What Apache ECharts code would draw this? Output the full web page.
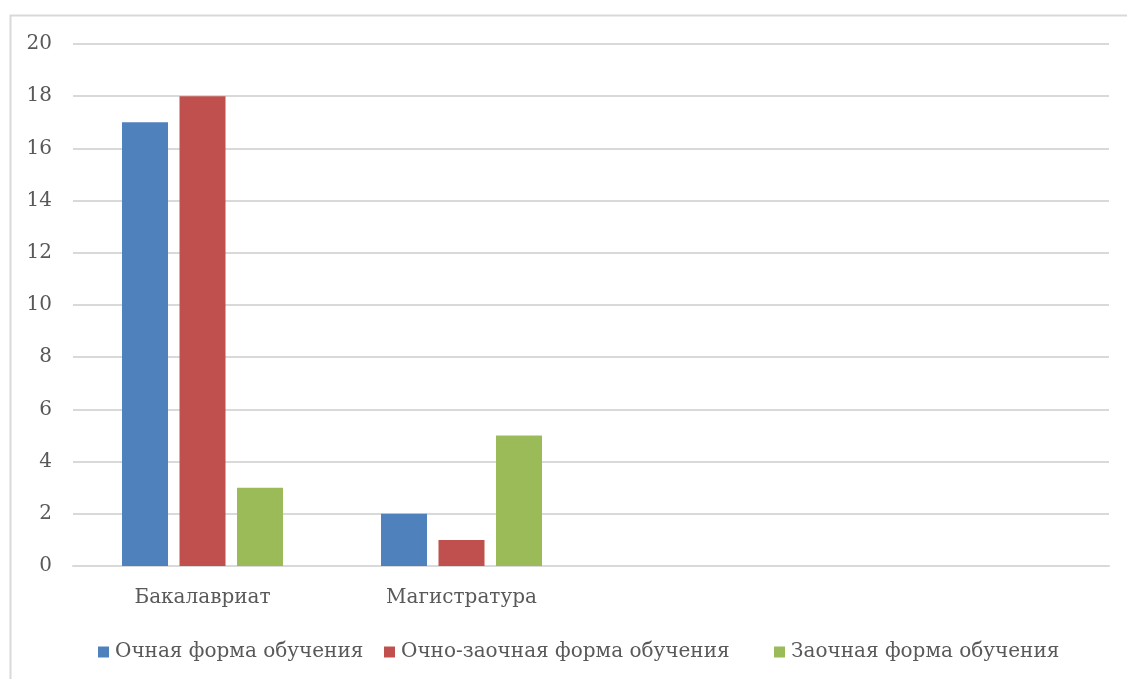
<!DOCTYPE html>
<html><head><meta charset="utf-8">
<script src="https://cdn.jsdelivr.net/npm/echarts@6/dist/echarts.min.js"></script>
<style>html,body{margin:0;padding:0;background:#fff}#c{width:1127px;height:679px}</style>
</head><body><div id="c"></div>
<script>
var categories = ['Бакалавриат', 'Магистратура', '', ''];
var seriesNames = ['Очная форма обучения', 'Очно-заочная форма обучения', 'Заочная форма обучения'];
var fullTime = [17, 2, null, null];
var partTime = [18, 1, null, null];
var distance = [3, 5, null, null];
var yTicks = [0, 2, 4, 6, 8, 10, 12, 14, 16, 18, 20];
var colors = ['#4F81BD', '#C0504D', '#9BBB59'];
var legendLeft = [98, 384, 774];
var font = 'DejaVu Serif';
var chart = echarts.init(document.getElementById('c'));
var values = [fullTime, partTime, distance];
chart.setOption({
  animation: false,
  color: colors,
  graphic: [{type: 'rect', left: 8, top: 13, shape: {width: 1130, height: 680}, style: {fill: 'none', stroke: '#d9d9d9', lineWidth: 2}, silent: true}],
  grid: {left: 73, right: 18, top: 44, bottom: 113, containLabel: false},
  legend: seriesNames.map(function (n, i) {
    return {
      data: [n], bottom: 17, left: legendLeft[i], padding: 0, itemWidth: 11, itemHeight: 11, itemGap: 0, icon: 'rect',
      textStyle: {fontFamily: font, fontSize: 20, color: '#595959', padding: [0, 0, 0, 1]}
    };
  }),
  xAxis: {
    type: 'category', data: categories,
    axisLine: {lineStyle: {color: '#d9d9d9', width: 2}}, axisTick: {show: false},
    axisLabel: {fontFamily: font, fontSize: 20, color: '#595959', margin: 22}
  },
  yAxis: {
    type: 'value', min: yTicks[0], max: yTicks[yTicks.length - 1], interval: 2,
    axisLine: {show: false}, axisTick: {show: false},
    splitLine: {lineStyle: {color: '#d9d9d9', width: 2}},
    axisLabel: {fontFamily: font, fontSize: 20, color: '#595959', margin: 21}
  },
  series: seriesNames.map(function (n, i) {
    return {name: n, type: 'bar', data: values[i], barWidth: 46, barGap: '25%'};
  })
});
</script></body></html>
